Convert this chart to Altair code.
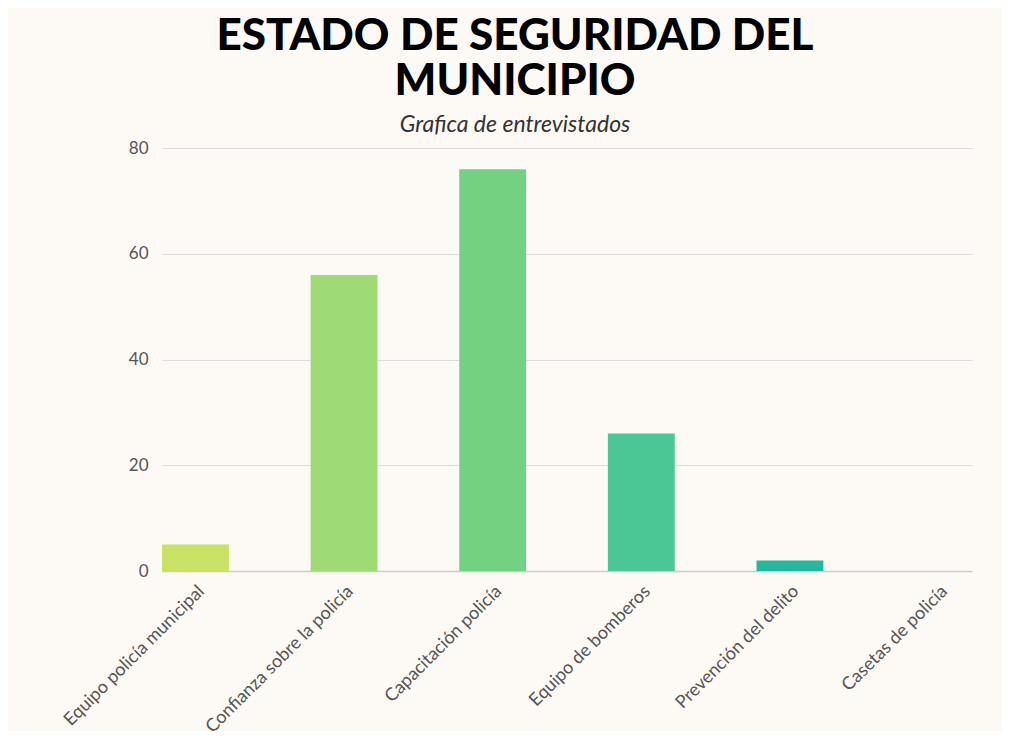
import altair as alt
import pandas as pd

categories = ["Equipo policía municipal", "Confianza sobre la policía", "Capacitación policía",
              "Equipo de bomberos", "Prevención del delito", "Casetas de policía"]
values = [5, 56, 76, 26, 2, 0]
colors = ["#C9E265", "#9EDB74", "#72D282", "#4BC795", "#23B8A0", "#13A8A8"]

df = pd.DataFrame({"cat": categories, "val": values})

chart = alt.Chart(df).mark_bar().encode(
    x=alt.X("cat:N", sort=categories, title=None,
            scale=alt.Scale(paddingInner=0.55, paddingOuter=0),
            axis=alt.Axis(labelAngle=-45, labelAlign="right", labelBaseline="top",
                          labelFont="Lato", labelFontSize=18, labelColor="#555555",
                          labelPadding=11, ticks=False, domainColor="#cccccc",
                          domainWidth=1.5, labelLimit=300)),
    y=alt.Y("val:Q", title=None, scale=alt.Scale(domain=[0, 80]),
            axis=alt.Axis(values=[0, 20, 40, 60, 80], labelFont="Lato", labelFontSize=17,
                          labelColor="#555555", ticks=False, domain=False,
                          gridColor="#dddddd", labelPadding=14)),
    color=alt.Color("cat:N", sort=categories, legend=None,
                    scale=alt.Scale(domain=categories, range=colors)),
).properties(
    width=810, height=423,
    title=alt.TitleParams(
        text=["ESTADO DE SEGURIDAD DEL", "MUNICIPIO"],
        subtitle="Grafica de entrevistados",
        font="Lato", fontSize=44, fontWeight=900, color="#000000",
        lineHeight=45, anchor="middle", dx=-52, offset=2,
        subtitleFont="Lato", subtitleFontSize=23, subtitleFontStyle="italic",
        subtitleColor="#333333", subtitlePadding=10,
    ),
    autosize=alt.AutoSizeParams(type="none"),
    padding={"left": 154, "top": 140, "right": 30, "bottom": 160},
).configure(background="#FDFAF5").configure_view(stroke=None)

chart.save("out.html", embed_options={"renderer": "svg", "actions": False})
